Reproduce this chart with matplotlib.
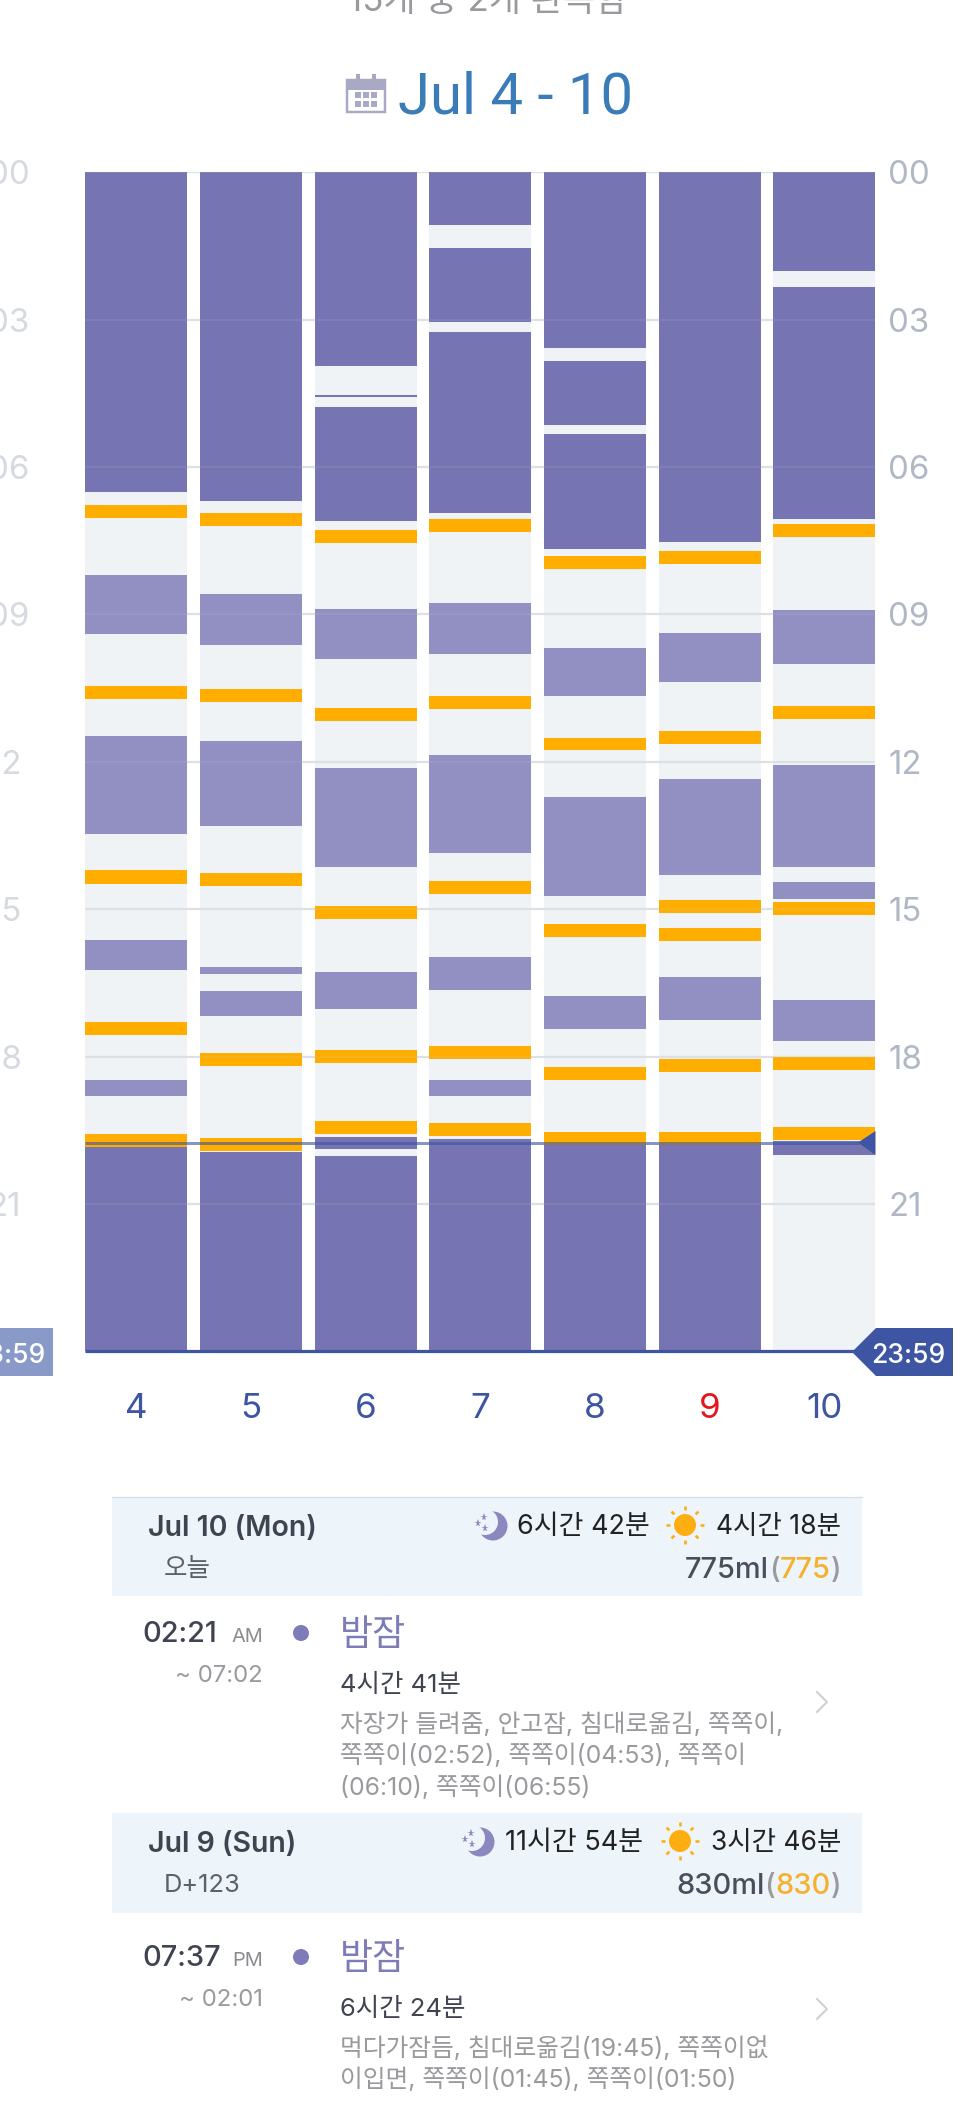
import numpy as np
import matplotlib
matplotlib.use("Agg")
import matplotlib.pyplot as plt
from matplotlib.patches import Rectangle, Polygon, Circle

plt.rcParams['font.family'] = ['Inter', 'Noto Sans CJK KR', 'DejaVu Sans']

# Week of Jul 4 - 10, hours of the day as (start, end)
days = ['4', '5', '6', '7', '8', '9', '10']
hour_ticks = [0, 3, 6, 9, 12, 15, 18, 21]
hour_labels = ['00', '03', '06', '09', '12', '15', '18', '21']

night_sleep = [
    [(0, 6.50), (19.84, 24)],
    [(0, 6.69), (19.95, 24)],
    [(0, 3.95), (4.53, 4.58), (4.78, 7.10), (19.63, 19.88), (20.02, 24)],
    [(0, 1.07), (1.55, 3.04), (3.25, 6.94), (19.67, 24)],
    [(0, 3.58), (3.84, 5.14), (5.32, 7.67), (19.80, 24)],
    [(0, 7.53), (19.80, 24)],
    [(0, 2.02), (2.34, 7.05), (19.71, 20.01)],
]
day_naps = [
    [(8.19, 9.39), (11.47, 13.47), (15.62, 16.24), (18.47, 18.81)],
    [(8.58, 9.63), (11.57, 13.30), (16.17, 16.32), (16.66, 17.17)],
    [(8.89, 9.91), (12.12, 14.14), (16.28, 17.04)],
    [(8.76, 9.81), (11.86, 13.85), (15.97, 16.65), (18.47, 18.80)],
    [(9.68, 10.67), (12.72, 14.74), (16.76, 17.43)],
    [(9.37, 10.37), (12.35, 14.31), (16.39, 17.26)],
    [(8.92, 10.00), (12.06, 14.14), (14.45, 14.79), (16.84, 17.69)],
]
feeds = [
    [(6.77, 7.03), (10.46, 10.72), (14.20, 14.48), (17.30, 17.56), (19.57, 19.84)],
    [(6.93, 7.20), (10.52, 10.79), (14.26, 14.52), (17.92, 18.19), (19.65, 19.93)],
    [(7.29, 7.55), (10.91, 11.17), (14.94, 15.21), (17.87, 18.14), (19.31, 19.57)],
    [(7.06, 7.32), (10.66, 10.92), (14.43, 14.69), (17.79, 18.06), (19.36, 19.62)],
    [(7.82, 8.08), (11.51, 11.77), (15.30, 15.57), (18.21, 18.47), (19.53, 19.80)],
    [(7.72, 7.98), (11.38, 11.64), (14.81, 15.08), (15.39, 15.65), (18.05, 18.31), (19.54, 19.80)],
    [(7.16, 7.42), (10.87, 11.13), (14.85, 15.11), (18.01, 18.28), (19.43, 19.69)],
]
now_hour = 19.75
end_hour = 24

NIGHT = '#7674b2'
NAP = '#928fc2'
FEED = '#ffae00'
COLUMN = '#f0f3f6'
BLUE = '#3d55a3'
TICK = '#b0b8c6'
BAND = '#edf5fb'
DARK = '#3f4450'
GREY = '#9a9a9e'
PURPLE = '#7d7bb8'
GOLD = '#f6b02c'

W, H = 974, 2109
Y0, PX_PER_HOUR = 172.2, 49.13
fig = plt.figure(figsize=(W / 100, H / 100), dpi=100, facecolor='white')


def pt(px):
    return px * 0.72


# Sleep chart: one column per day, time running downwards
chart_bottom = Y0 + 24 * PX_PER_HOUR
ax = fig.add_axes([85.3 / W, 1 - chart_bottom / H, (875.2 - 85.3) / W, (chart_bottom - Y0) / H], zorder=1)
ax.set_xlim(-0.445, 6.445)
ax.set_ylim(24, 0)
for s in ax.spines.values():
    s.set_visible(False)
ax.patch.set_alpha(0)

x = np.arange(len(days))
bar_w = 0.89
ax.bar(x, 24, bottom=0, width=bar_w, color=COLUMN, zorder=1)
for h in hour_ticks:
    ax.axhline(h, color='#e1e4e8', lw=pt(2.2), zorder=1.5)


def draw_segments(rows, color, z):
    for i, row in enumerate(rows):
        bottoms = [a for a, _ in row]
        heights = [b - a for a, b in row]
        ax.bar([x[i]] * len(row), heights, bottom=bottoms, width=bar_w, color=color, lw=0, zorder=z)


draw_segments(night_sleep, NIGHT, 2)
draw_segments(day_naps, NAP, 2)
draw_segments(feeds, FEED, 3)
for h in hour_ticks:
    ax.axhline(h, color='#c8ccd0', lw=pt(2.2), alpha=0.13, zorder=3.5)

ax.plot([-0.445, 6.3], [now_hour, now_hour], color=BLUE, lw=pt(3), alpha=0.62, zorder=4,
        solid_capstyle='butt')
ax.plot([-0.445, 6.445], [end_hour, end_hour], color=BLUE, lw=pt(3.2), zorder=4,
        solid_capstyle='butt', clip_on=False)

ax.set_yticks(hour_ticks)
ax.set_yticklabels(hour_labels)
ax.yaxis.tick_right()
ax.tick_params(axis='y', length=0, pad=pt(13), labelsize=pt(33), labelcolor=TICK)
ax.set_xticks(x)
ax.set_xticklabels(days)
ax.tick_params(axis='x', length=0, pad=pt(42), labelsize=pt(35), labelcolor=BLUE)
ax.get_xticklabels()[5].set_color('#e8141c')

# Page layer in pixel coordinates for the labels and list below the chart
pg = fig.add_axes([0, 0, 1, 1], zorder=3)
pg.set_xlim(0, W)
pg.set_ylim(H, 0)
pg.axis('off')
pg.patch.set_alpha(0)

for h, lab in zip(hour_ticks, hour_labels):
    pg.text(-12, Y0 + PX_PER_HOUR * h, lab, color='#d5d9e0', fontsize=pt(33),
            va='center_baseline', ha='left')


def tag(x0, colour):
    pts = [(x0 + 852, 1352), (x0 + 876, 1328), (x0 + 953, 1328), (x0 + 953, 1376), (x0 + 876, 1376)]
    pg.add_patch(Polygon(pts, closed=True, fc=colour, ec='none'))
    pg.text(x0 + 908, 1353, '23:59', color='white', fontsize=pt(26.5), ha='center',
            va='center_baseline', fontweight=500)


tag(0, BLUE)
tag(-900, '#8a9ac8')
pg.add_patch(Polygon([(858, 1142.5), (875.5, 1131), (875.5, 1155)], closed=True, fc=BLUE, ec='none'))

# Header
pg.text(488, 11, '15개 중 2개 완독함', color=GREY, fontsize=pt(35), ha='center', va='baseline')
pg.text(398, 113, 'Jul 4 - 10', color='#3a7cb8', fontsize=pt(58), ha='left', va='baseline',
        family=['Roboto', 'DejaVu Sans'], fontweight=400)

# Calendar glyph beside the title
CAL = '#a9a9c6'
pg.add_patch(Rectangle((347, 80), 38, 32, fc='white', ec=CAL, lw=pt(2.5)))
pg.add_patch(Rectangle((347, 80), 38, 10, fc=CAL, ec='none'))
for cx in (357.5, 373.5):
    pg.add_patch(Rectangle((cx - 1.5, 74), 3.5, 8, fc=CAL, ec='none'))
for cx in (355, 363, 371):
    for cy in (92, 101):
        pg.add_patch(Rectangle((cx, cy), 6, 6, fc=CAL, ec='none'))


def moon(cx, cy):
    pg.add_patch(Circle((cx, cy), 14.5, fc='#8b88c0', ec='none'))
    pg.add_patch(Circle((cx - 8, cy - 4), 13, fc=BAND, ec='none'))
    pg.plot([cx - 9, cx - 15, cx - 8], [cy - 9, cy - 3, cy + 2], ls='none', marker='*',
            ms=pt(8), color='#8b88c0', mew=0)


def sun(cx, cy):
    pg.add_patch(Circle((cx, cy), 11, fc='#ffae12', ec='none'))
    for a in np.arange(8) * np.pi / 4:
        pg.plot([cx + 15 * np.cos(a), cx + 19 * np.cos(a)],
                [cy + 15 * np.sin(a), cy + 19 * np.sin(a)],
                color='#ffae12', lw=pt(2.6), solid_capstyle='butt')


def chevron(cy):
    pg.plot([817, 827, 817], [cy - 10, cy, cy + 10], color='#cfcfd2', lw=pt(2))


def right_run(x_right, y, parts, size, weight=500):
    # Lays out differently coloured pieces leftwards from a right edge
    r = fig.canvas.get_renderer()
    cur = x_right
    for s, c in reversed(parts):
        t = pg.text(cur, y, s, color=c, fontsize=pt(size), ha='right', va='center', fontweight=weight)
        cur -= t.get_window_extent(r).width


def day_band(top, bottom, title, sub, night, nap, moon_x, sun_x, night_x, volume, rule):
    pg.add_patch(Rectangle((112, top), 750, bottom - top, fc=BAND, ec='none'))
    if rule:
        pg.plot([112, 862], [top, top], color='#d3dde6', lw=pt(1.2))
    cy = top + 28
    pg.text(148, cy + 3, title, color=DARK, fontsize=pt(28.5), ha='left', va='center', fontweight=600)
    pg.text(164, cy + 44, sub, color='#5c6068', fontsize=pt(25.5), ha='left', va='center')
    moon(moon_x, cy + 1)
    sun(sun_x, cy)
    pg.text(night_x, cy + 2, night, color='#222222', fontsize=pt(27), ha='left', va='center')
    pg.text(841, cy + 2, nap, color='#222222', fontsize=pt(26.5), ha='right', va='center')
    right_run(841, cy + 46, [(f'{volume}ml', '#474f5a'), ('(', GREY), (str(volume), GOLD), (')', GREY)], 29, 500)


def entry(y, start, ampm, until, length, notes, chevron_y):
    pg.text(142, y + 2, start, color=DARK, fontsize=pt(29), ha='left', va='center', fontweight=500)
    pg.text(263, y + 4, ampm, color='#8c8c90', fontsize=pt(20), ha='right', va='center')
    pg.text(263, y + 43, until, color=GREY, fontsize=pt(24), ha='right', va='center')
    pg.add_patch(Circle((301, y), 8, fc=PURPLE, ec='none'))
    pg.text(340, y + 3, '밤잠', color=PURPLE, fontsize=pt(36), ha='left', va='center', fontweight=500)
    pg.text(340, y + 52, length, color=DARK, fontsize=pt(25.5), ha='left', va='center')
    for i, line in enumerate(notes):
        pg.text(340, y + 91.5 + i * 31.5, line, color=GREY, fontsize=pt(24.8), ha='left', va='center')
    chevron(chevron_y)


day_band(1497, 1596, 'Jul 10 (Mon)', '오늘', '6시간 42분', '4시간 18분', 493, 685, 517, 775, True)
entry(1633, '02:21', 'AM', '~ 07:02', '4시간 41분',
      ['자장가 들려줌, 안고잠, 침대로옮김, 쪽쪽이,',
       '쪽쪽이(02:52), 쪽쪽이(04:53), 쪽쪽이',
       '(06:10), 쪽쪽이(06:55)'], 1702)
day_band(1813, 1913, 'Jul 9 (Sun)', 'D+123', '11시간 54분', '3시간 46분', 480, 680, 505, 830, False)
entry(1957, '07:37', 'PM', '~ 02:01', '6시간 24분',
      ['먹다가잠듬, 침대로옮김(19:45), 쪽쪽이없',
       '이입면, 쪽쪽이(01:45), 쪽쪽이(01:50)'], 2009)

fig.savefig('out.png', dpi=100, facecolor='white')
